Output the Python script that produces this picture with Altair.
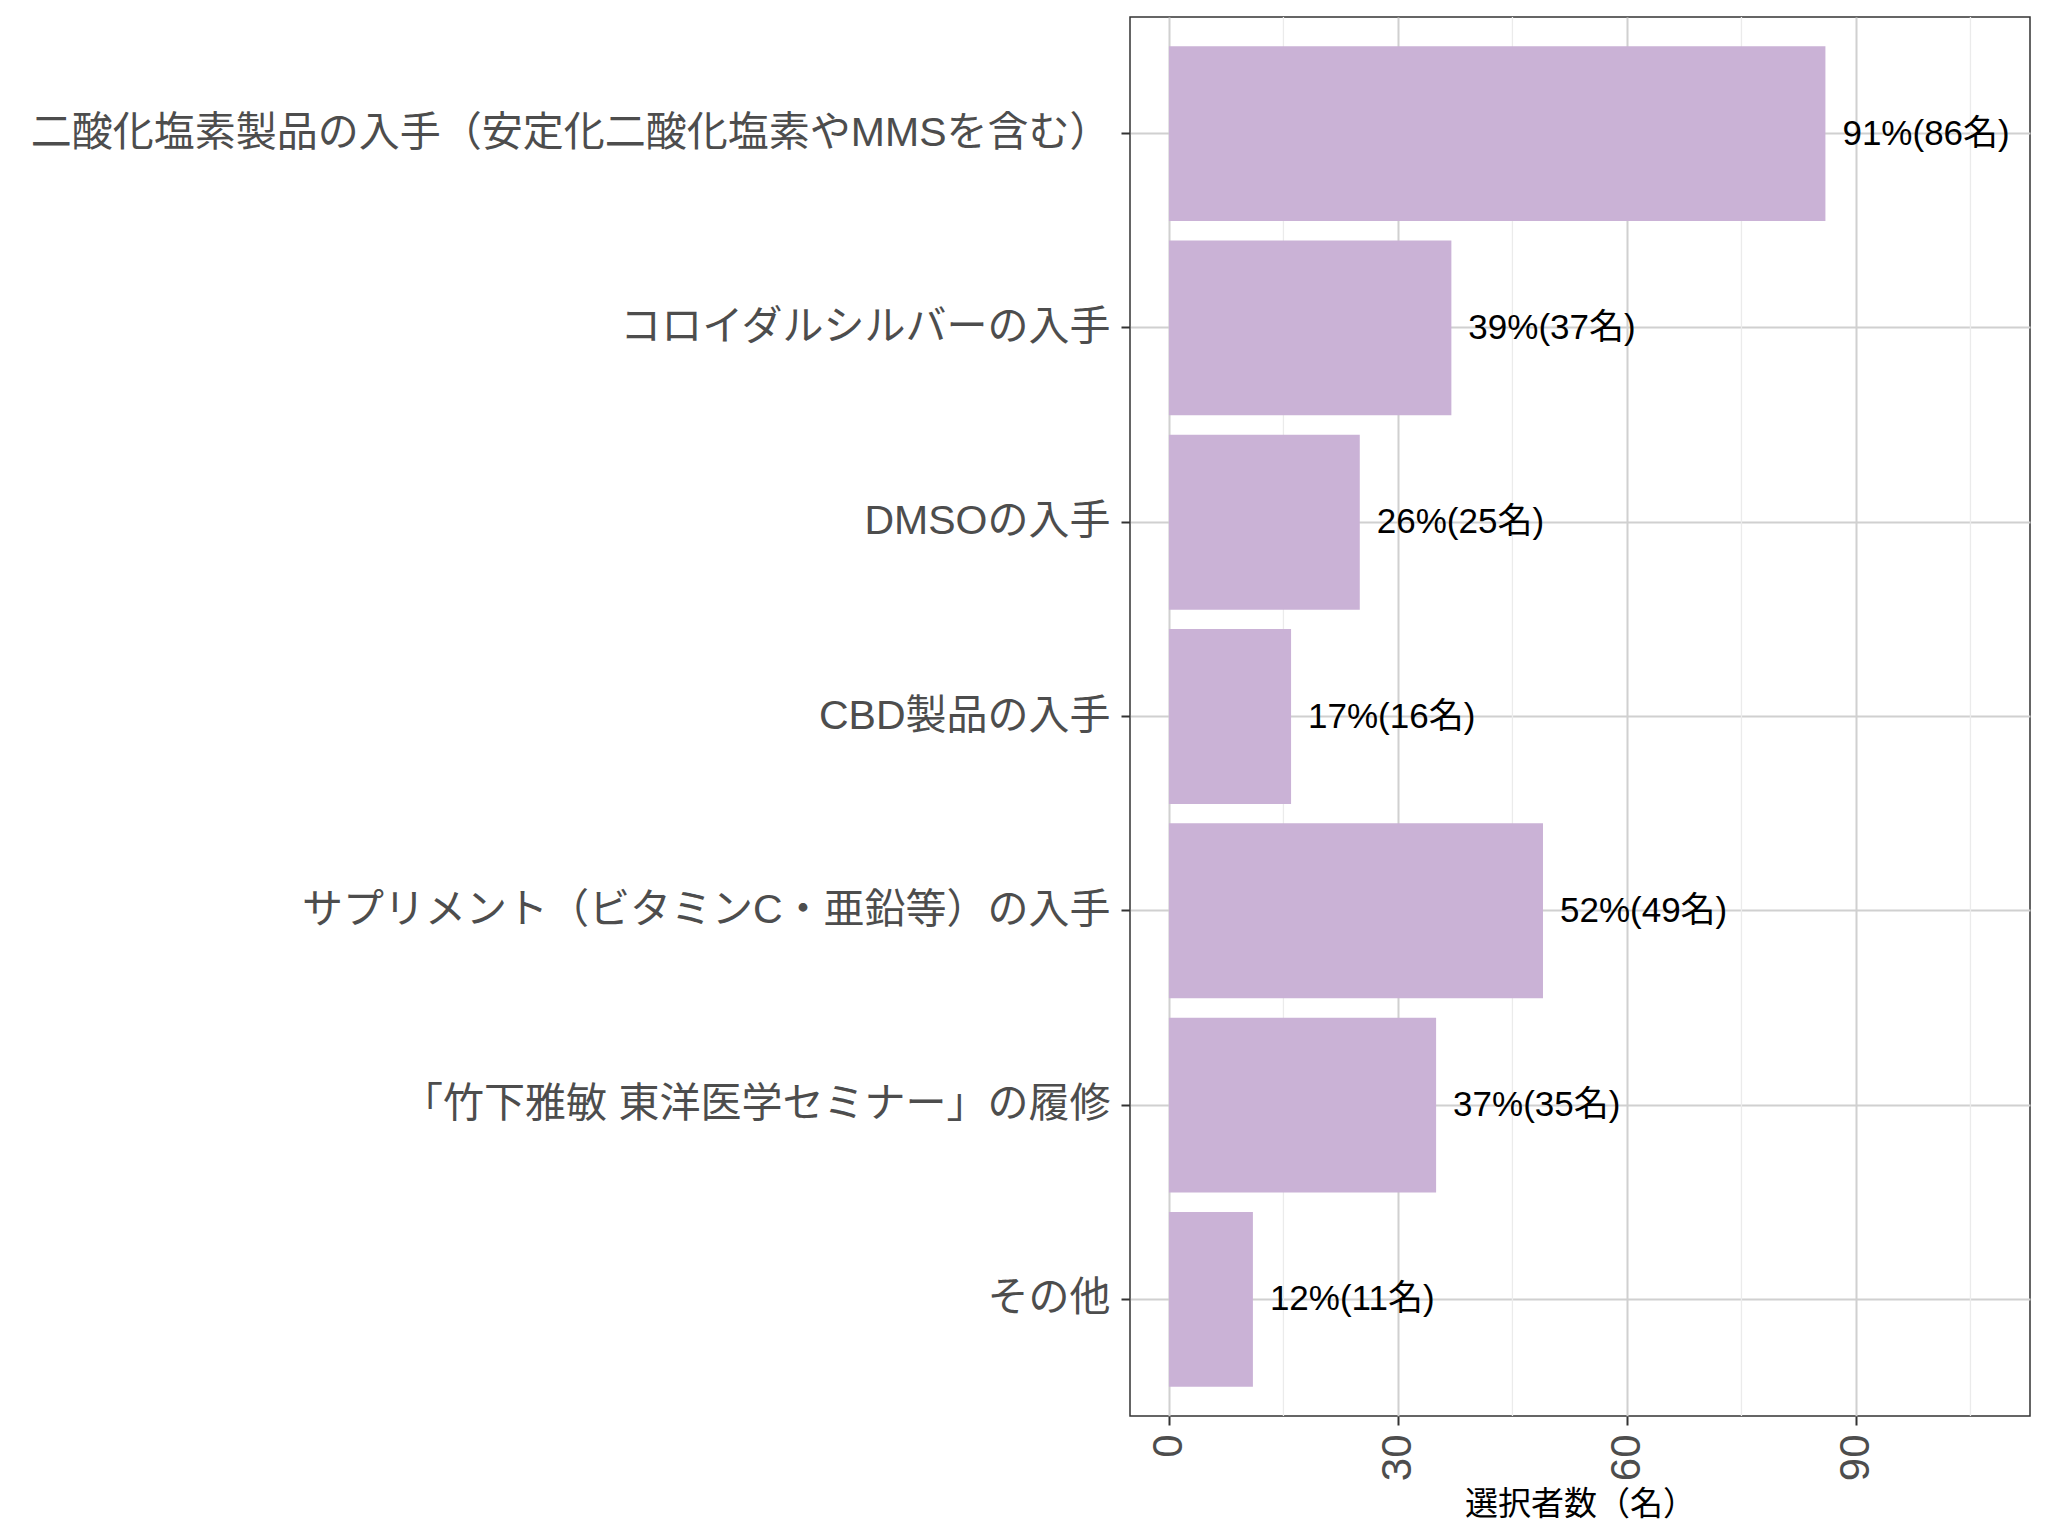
import altair as alt
import pandas as pd

categories = [
    "二酸化塩素製品の入手（安定化二酸化塩素やMMSを含む）",
    "コロイダルシルバーの入手",
    "DMSOの入手",
    "CBD製品の入手",
    "サプリメント（ビタミンC・亜鉛等）の入手",
    "「竹下雅敏 東洋医学セミナー」の履修",
    "その他",
]
counts = [86, 37, 25, 16, 49, 35, 11]
percents = [91, 39, 26, 17, 52, 37, 12]
major_ticks = [0, 30, 60, 90]
minor_ticks = [15, 45, 75, 105]

df = pd.DataFrame({
    "category": categories,
    "count": counts,
    "label": [f"{p}%({c}名)" for p, c in zip(percents, counts)],
})
minor_df = pd.DataFrame({"v": minor_ticks})

FONT = "'Liberation Sans', 'Noto Sans CJK JP', sans-serif"

xscale = alt.Scale(domain=[-5.1, 112.8], nice=False, zero=False)
yscale = alt.Scale(paddingInner=0.1, paddingOuter=0.15)

x_axis = alt.Axis(
    values=major_ticks, grid=True, gridColor="#D0D0D0", gridWidth=2,
    tickSize=9, tickWidth=2, tickColor="#333333", domain=False,
    labelAngle=270, labelAlign="right", labelBaseline="middle",
    labelFontSize=42, labelColor="#4D4D4D", labelFont=FONT, labelPadding=9,
    title="選択者数（名）", titleFontSize=33, titleFontWeight="normal",
    titleColor="#000000", titleFont=FONT, titlePadding=8,
)
y_axis = alt.Axis(
    grid=True, gridColor="#D0D0D0", gridWidth=2, bandPosition=0.5,
    tickSize=9, tickWidth=2, tickColor="#333333", domain=False,
    labelFontSize=41, labelColor="#4D4D4D", labelFont=FONT, labelPadding=11,
    labelLimit=0, title=None,
)

minor = alt.Chart(minor_df).mark_rule(color="#EBEBEB", strokeWidth=1.3).encode(
    x=alt.X("v:Q", scale=xscale, axis=x_axis)
)

bars = alt.Chart(df).mark_bar(color="#CAB2D6").encode(
    x=alt.X("count:Q", scale=xscale, axis=x_axis),
    x2=alt.datum(0),
    y=alt.Y("category:N", sort=categories, scale=yscale, axis=y_axis),
)

text = alt.Chart(df).mark_text(
    align="left", baseline="middle", dx=17, fontSize=35, color="#000000", font=FONT
).encode(
    x=alt.X("count:Q", scale=xscale, axis=x_axis),
    y=alt.Y("category:N", sort=categories, scale=yscale, axis=y_axis),
    text="label:N",
)

chart = alt.layer(minor, bars, text).properties(
    width=900,
    height=1399,
    autosize=alt.AutoSizeParams(type="none"),
    padding={"left": 1122, "top": 9, "right": 10, "bottom": 112},
    background="white",
).configure_view(stroke="#333333", strokeWidth=1.5)

chart.save("out.html", embed_options={"renderer": "svg", "actions": False})
